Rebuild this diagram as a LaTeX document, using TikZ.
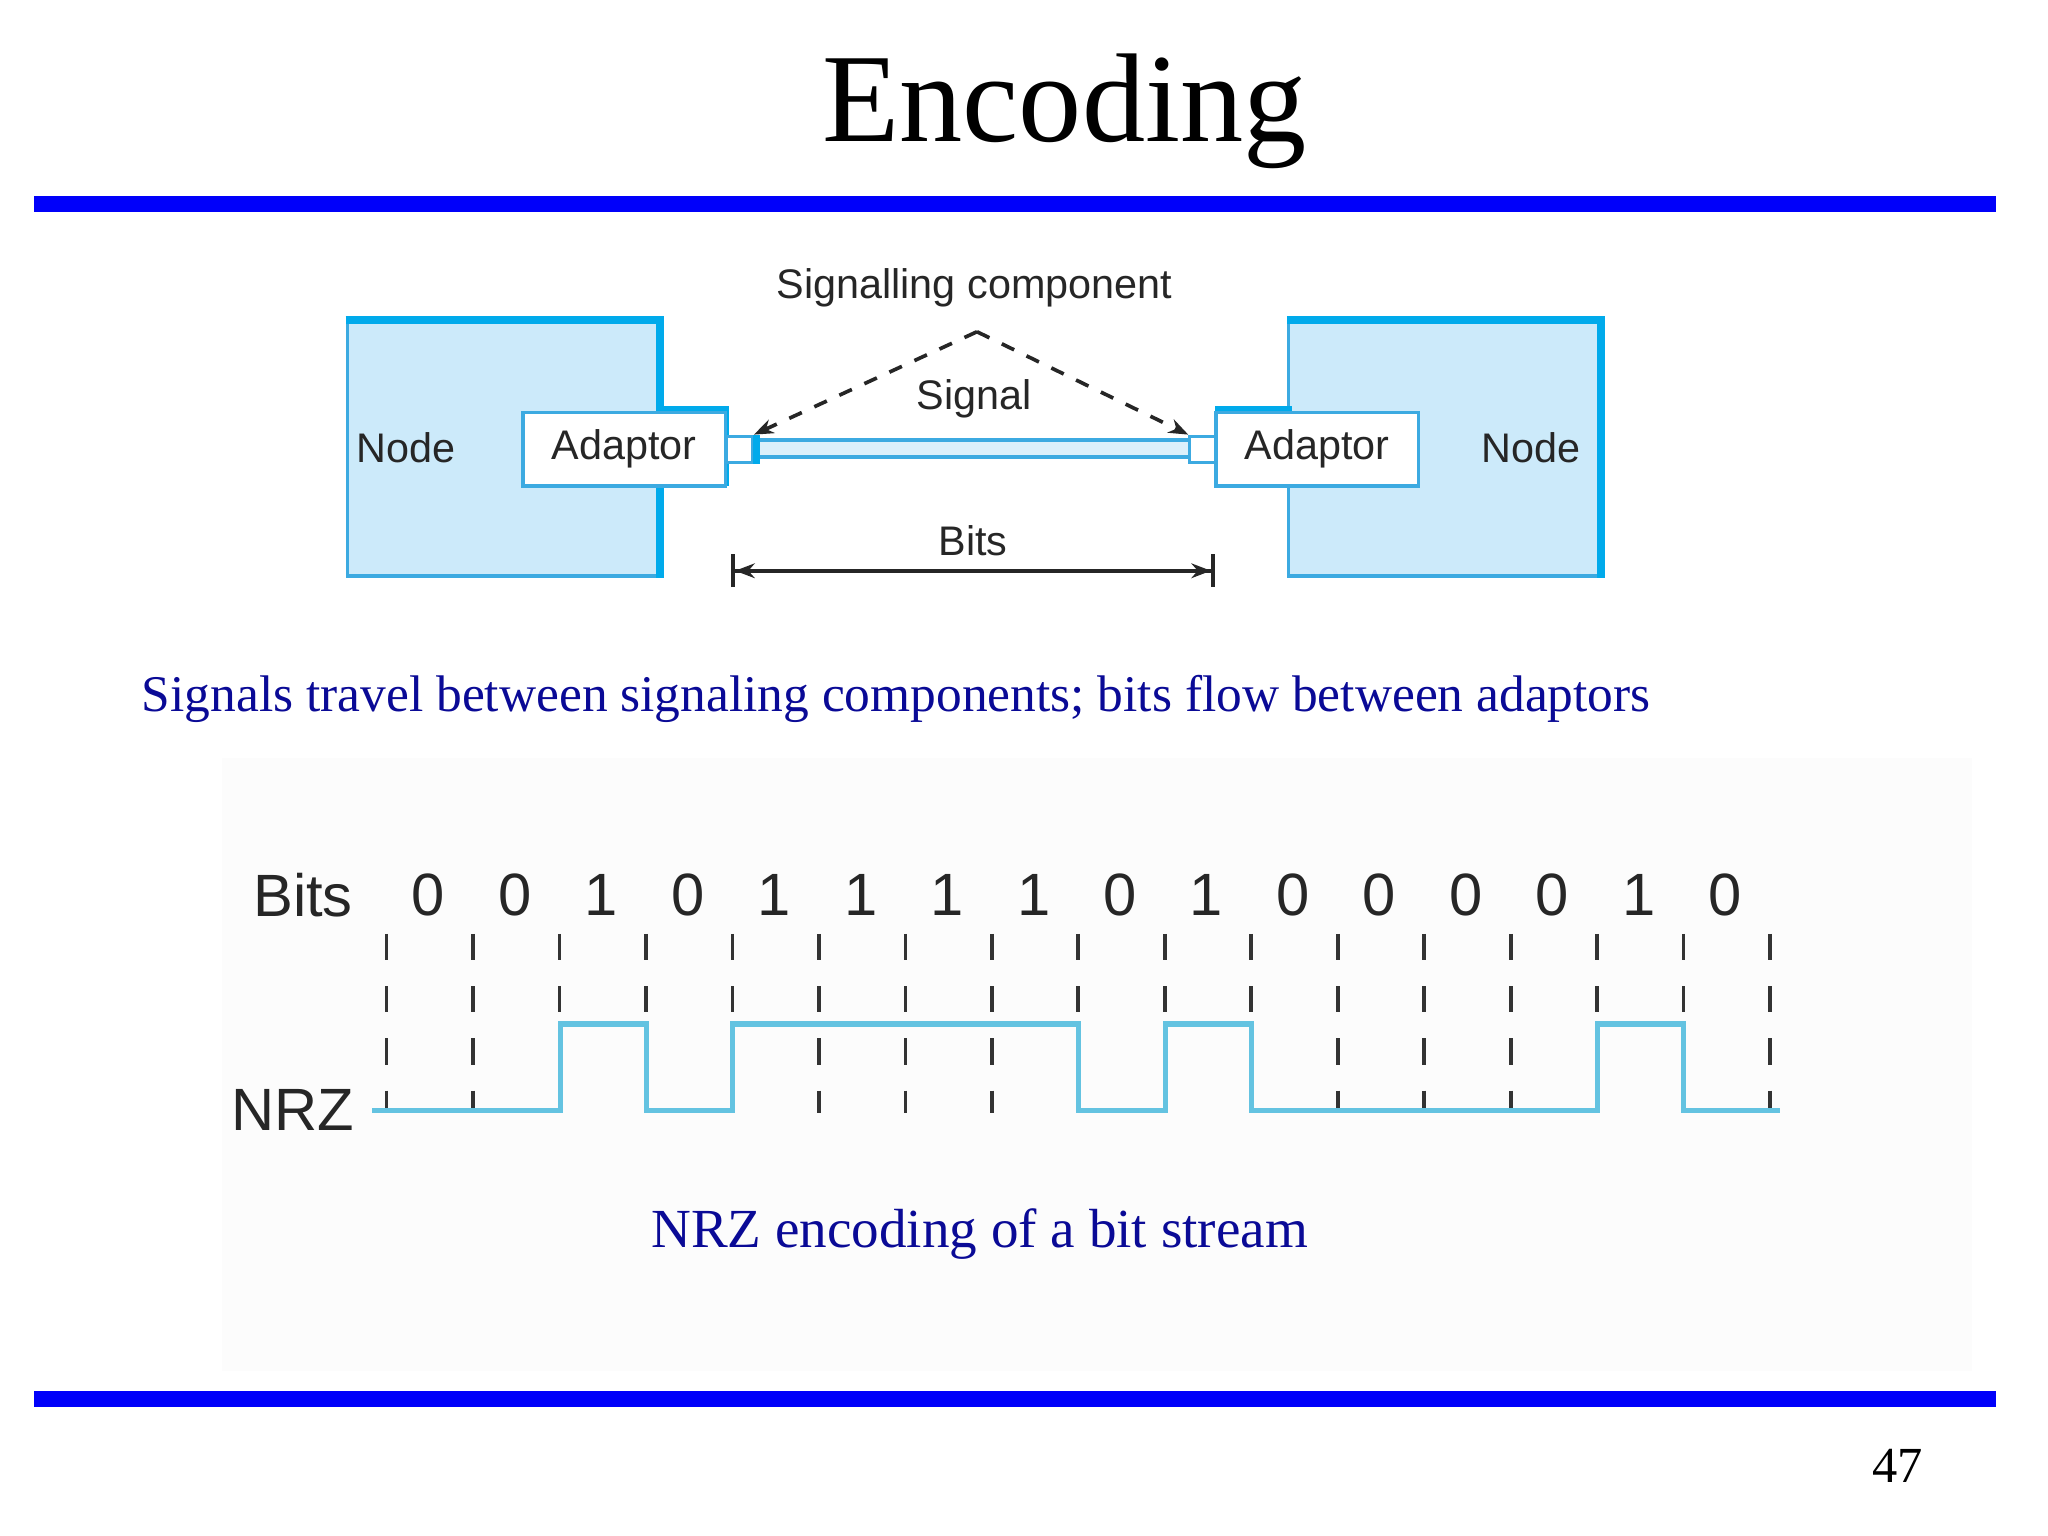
\documentclass[tikz,border=0pt]{standalone}
\usepackage{fontspec}
\setmainfont{Liberation Serif}
\newfontfamily\diagfont{Liberation Sans}
\usetikzlibrary{positioning, calc, arrows.meta}
\definecolor{slideblue}{RGB}{0,0,250}
\definecolor{capblue}{RGB}{10,10,150}
\definecolor{boxfill}{RGB}{204,234,250}
\definecolor{boxedge}{RGB}{0,170,235}
\definecolor{boxline}{RGB}{60,170,225}
\definecolor{wave}{RGB}{100,195,225}
\begin{document}
\begin{tikzpicture}[x=0.01cm, y=-0.01cm,
    label/.style = { font = \diagfont\fontsize{9}{9}\selectfont, text = black!85, inner sep = 0 },
    big/.style = { font = \diagfont\fontsize{13}{13}\selectfont, text = black!85, inner sep = 0 },
    caption/.style = { font = \fontsize{11.2}{11.2}\selectfont, text = capblue, inner sep = 0 },
    nodebox/.style = { draw = boxline, fill = boxfill, line width = 0.7pt, minimum width = 2.41cm, minimum height = 1.98cm, inner sep = 0 },
    adaptor/.style = { draw = boxline, fill = white, line width = 0.7pt, minimum width = 1.55cm, minimum height = 0.56cm, inner sep = 0 },
    plug/.style = { draw = boxline, fill = white, line width = 0.7pt, minimum width = 0.2cm, minimum height = 0.2cm, inner sep = 0 },
    edge/.style = { line width = 0.06cm, boxedge },
    tick/.style = { black!80, line width = 0.8pt, dash pattern = on 0.2cm off 0.2cm },
    nrz/.style = { wave, line width = 1.1pt }]
  \useasboundingbox (0,0) rectangle (1568,1176);

  % title and rules
  \node[font = \fontsize{27.5}{27.5}\selectfont, inner sep = 0] (title) at (815,85) {Encoding};
  \fill[slideblue] (26,150) rectangle (1528,162);
  \fill[slideblue] (26,1065) rectangle (1528,1077);
  \node[font = \fontsize{11}{11}\selectfont, inner sep = 0] (page) at (1453,1122) {47};

  % node boxes
  \node[nodebox] (lnode) at (386.5,342) {};
  \node[nodebox] (rnode) at (1107,342) {};
  \draw[edge] ($(lnode.north west)+(0,3)$) -- ($(lnode.north east)+(-3,3)$) -- ($(lnode.south east)+(-3,0)$);
  \draw[edge] ($(rnode.north west)+(0,3)$) -- ($(rnode.north east)+(-3,3)$) -- ($(rnode.south east)+(-3,0)$);
  \node[label] (lnodetext) at (311,343) {Node};
  \node[label] (rnodetext) at (1172,343) {Node};

  % adaptor tabs
  \fill[boxedge] (505,311) rectangle (558,372);
  \fill[boxedge] (930,311) rectangle (989,372);
  \node[adaptor] (ladapt) at (478,344) {};
  \node[adaptor] (radapt) at (1008.5,344) {};
  \node[label] at (ladapt) {Adaptor};
  \node[label] at (radapt) {Adaptor};

  % cable and plugs
  \fill[boxfill!70] (576,337) rectangle (912,350);
  \draw[boxline, line width = 0.8pt] (576,337) -- (912,337) (576,350) -- (912,350);
  \node[plug] (lplug) at (566,344) {};
  \node[plug] (rplug) at (921,344) {};
  \draw[boxedge, line width = 0.05cm] ($(lplug.north east)+(2,0)$) -- ($(lplug.south east)+(2,0)$);

  % signalling component
  \node[label] (sigcomp) at (746,220) {Signalling component};
  \coordinate (apex) at (748,254);
  \draw[dashed, thick, black!85, -{Stealth[length=0.15cm]}] (apex) -- (lplug.north east);
  \draw[dashed, thick, black!85, -{Stealth[length=0.15cm]}] (apex) -- (rplug.north west);
  \node[label] (signal) at (746,305) {Signal};

  % bits span
  \node[label] (bitslabel) at (745,414) {Bits};
  \coordinate (bitsL) at (560,437);
  \coordinate (bitsR) at (930,437);
  \draw[thick, black!85, {Bar[width=0.25cm]Stealth[length=0.15cm]}-{Stealth[length=0.15cm]Bar[width=0.25cm]}] (bitsL) -- (bitsR);

  \node[caption, anchor = west] (cap1) at (108,535) {Signals travel between signaling components; bits flow between adaptors};

  % NRZ panel
  \fill[black!1] (170,580) rectangle (1510,1050);
  \node[big] (bitsrow) at (232,685) {Bits};
  \node[big] (nrzlabel) at (224,850) {NRZ};
  \foreach \b [count = \i from 0] in {0,0,1,0,1,1,1,1,0,1,0,0,0,0,1,0}
    \node[big] (bit\i) at (328+66.2*\i,685) {\b};
  \foreach \i in {0,...,16}
    \draw[tick] (296+66.2*\i,715) -- (296+66.2*\i,852);
  \draw[nrz] (285,850) -- (429,850) -- (429,784) -- (495,784) -- (495,850) -- (561,850) -- (561,784)
    -- (826,784) -- (826,850) -- (892,850) -- (892,784) -- (958,784) -- (958,850) -- (1223,850)
    -- (1223,784) -- (1289,784) -- (1289,850) -- (1363,850);
  \node[caption, font = \fontsize{12}{12}\selectfont] (cap2) at (750,945) {NRZ encoding of a bit stream};
\end{tikzpicture}
\end{document}
